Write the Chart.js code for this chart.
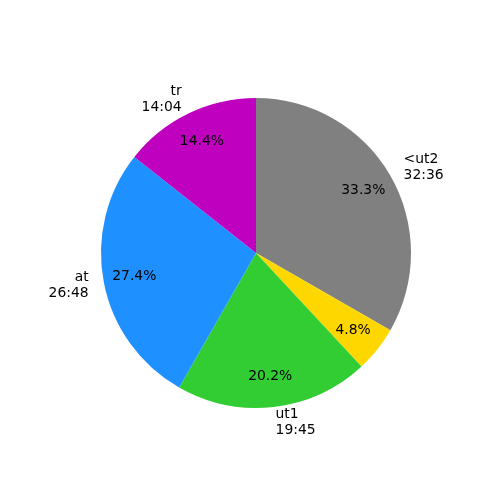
<!DOCTYPE html>
<html>
<head>
<meta charset="utf-8">
<script src="https://cdn.jsdelivr.net/npm/chart.js@4"></script>
<style>
html,body{margin:0;padding:0;background:#fff;}
canvas{display:block;}
</style>
</head>
<body>
<canvas id="c" width="500" height="500"></canvas>
<script>
// Data (ordered clockwise from 12 o'clock, as Chart.js draws)
const categories = ['<ut2', '', 'ut1', 'at', 'tr'];
const times = ['32:36', '', '19:45', '26:48', '14:04'];
const seconds = [1956, 281, 1185, 1608, 844];
const colors = ['#808080', '#FFD700', '#32CD32', '#1E90FF', '#BF00BF'];

const FONT = '13.9px "DejaVu Sans"';
const LINE_H = 16.2;

const labelPlugin = {
  id: 'pieLabels',
  afterDatasetsDraw(chart) {
    const ctx = chart.ctx;
    const meta = chart.getDatasetMeta(0);
    const data = chart.data.datasets[0].data;
    const total = data.reduce((a, b) => a + b, 0);
    ctx.save();
    ctx.font = FONT;
    ctx.fillStyle = '#000';
    ctx.textBaseline = 'middle';
    meta.data.forEach((arc, i) => {
      const mid = (arc.startAngle + arc.endAngle) / 2;
      const r = arc.outerRadius;
      const cx = arc.x, cy = arc.y;
      const cos = Math.cos(mid), sin = Math.sin(mid);
      // percentage
      const pct = (data[i] / total * 100).toFixed(1) + '%';
      ctx.textAlign = 'center';
      ctx.fillText(pct, cx + 0.8 * r * cos, cy + 0.8 * r * sin);
      // outer label
      const lines = [categories[i], times[i]].filter(s => s !== '');
      if (!lines.length) return;
      const lx = cx + 1.1 * r * cos;
      const ly = cy + 1.1 * r * sin;
      ctx.textAlign = cos < 0 ? 'right' : 'left';
      const n = lines.length;
      lines.forEach((t, k) => {
        ctx.fillText(t, lx, ly + (k - (n - 1) / 2) * LINE_H);
      });
    });
    ctx.restore();
  }
};

new Chart(document.getElementById('c'), {
  type: 'pie',
  data: {
    labels: categories,
    datasets: [{
      data: seconds,
      backgroundColor: colors,
      borderWidth: 0
    }]
  },
  options: {
    responsive: false,
    animation: false,
    layout: { padding: { left: 101, right: 89, top: 98, bottom: 92 } },
    plugins: { legend: { display: false }, tooltip: { enabled: false } }
  },
  plugins: [labelPlugin]
});
</script>
</body>
</html>
